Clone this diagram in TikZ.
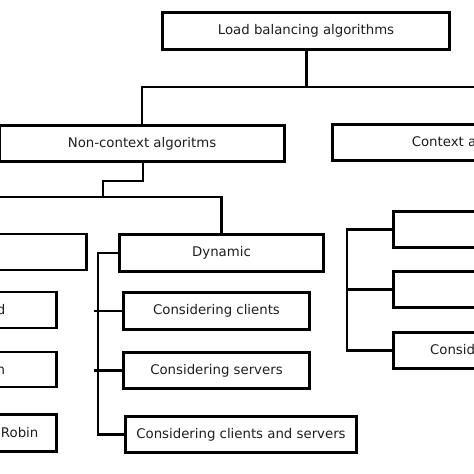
\documentclass[tikz,border=0pt]{standalone}
\usepackage{fontspec}
\setmainfont{DejaVu Sans}
\usepackage{tikz}
\usetikzlibrary{
  positioning,
  calc
}
\usepackage{xcolor}
\definecolor{boxText}{rgb}{0.12,0.12,0.12}
\tikzset{
  algBox/.style={
    rectangle,
    draw,
    line width=2.6pt,
    minimum height=37,
    inner sep=0pt,
    fill=white,
    text=boxText,
    font=\fontsize{13.3}{15}\selectfont
  }
}
\tikzset{
  treeLine/.style={
    line width=2.4pt,
    line cap=rect
  }
}

\begin{document}
\begin{tikzpicture}[x=1pt, y=-1pt]
    \useasboundingbox (0,0) rectangle (474,474);
    \clip (0,0) rectangle (474,474);
    % top level
    \node[algBox, minimum width=287] (root) at (306,31) {Load balancing algorithms};
    \node[algBox, minimum width=285, minimum height=36] (nonCtx) at (142,143.5) {Non-context algoritms};
    \node[algBox, minimum width=286, minimum height=36] (ctx) at (475.5,142.5) {Context algorithms};
    % non-context side
    \node[algBox, minimum width=223, minimum height=36] (static) at (-25,252) {Static};
    \node[algBox, minimum width=204] (dynamic) at (221.5,253) {Dynamic};
    \node[algBox, minimum width=185, minimum height=36] (randomized) at (-36,310) {Randomized};
    \node[algBox, minimum width=155, minimum height=35] (minMin) at (-21,369.5) {Min-Min};
    \node[algBox, minimum width=120] (roundRobin) at (-3.5,433) {Round Robin};
    \node[algBox, minimum width=186] (consClients) at (216.5,311) {Considering clients};
    \node[algBox, minimum width=186, minimum height=36] (consServers) at (216.5,370.5) {Considering servers};
    \node[algBox, minimum width=231, minimum height=36] (consBoth) at (241,434.5) {Considering clients and servers};
    % context side
    \node[algBox, minimum width=200, minimum height=36] (ctxOne) at (493.5,229.5) {Static};
    \node[algBox, minimum width=206, minimum height=36] (ctxTwo) at (496.5,289.5) {Hybrid};
    \node[algBox, minimum width=200, minimum height=36] (ctxThree) at (493.5,350.5) {Considering clients};
    % joints
    \coordinate (rootJoint) at (306.5,87);
    \coordinate (ncStep) at (143,181);
    \coordinate (ncJoint) at (103,197);
    \coordinate (dynRail) at (98,253);
    \coordinate (ctxRail) at (347,229.5);
    % connectors
    \draw[treeLine] (root.south -| rootJoint) -- (rootJoint);
    \draw[treeLine] (nonCtx.north) |- (rootJoint) -| (ctx.north);
    \draw[treeLine] (nonCtx.south -| ncStep) -- (ncStep) -| (ncJoint);
    \draw[treeLine] (static.north) |- (ncJoint) -| (dynamic.north);
    \draw[treeLine] (dynamic.west) -- (dynRail) |- (consBoth.west);
    \draw[treeLine] ([xshift=-3pt]consClients.west -| dynRail) -- (consClients.west);
    \draw[treeLine] ([xshift=-3pt]consServers.west -| dynRail) -- (consServers.west);
    \draw[treeLine] (ctxOne.west) -- (ctxRail) |- (ctxThree.west);
    \draw[treeLine] (ctxTwo.west) -- (ctxTwo.west -| ctxRail);
\end{tikzpicture}
\end{document}
